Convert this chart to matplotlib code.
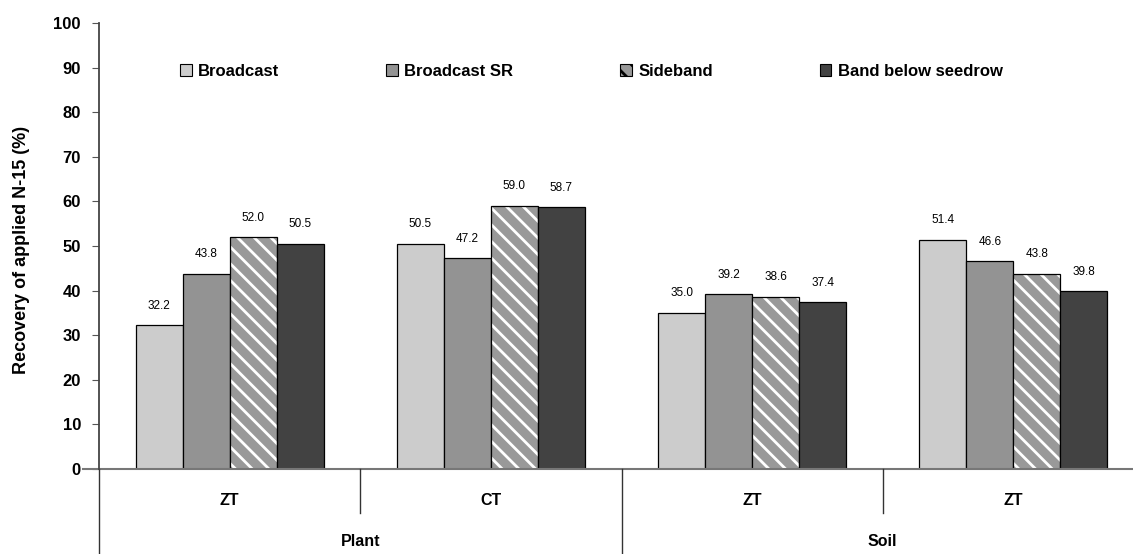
import matplotlib.pyplot as plt
import matplotlib.patches as mpatches
import numpy as np

plt.rcParams['font.family'] = ['Liberation Sans', 'DejaVu Sans']
plt.rcParams['hatch.linewidth'] = 2.0

# data
groups = ["ZT", "CT", "ZT", "ZT"]
parts = ["Plant", "Soil"]
series = ["Broadcast", "Broadcast SR", "Sideband", "Band below seedrow"]
broadcast = [32.2, 50.5, 35.0, 51.4]
broadcast_sr = [43.8, 47.2, 39.2, 46.6]
sideband = [52.0, 59.0, 38.6, 43.8]
band_below = [50.5, 58.7, 37.4, 39.8]
values = [broadcast, broadcast_sr, sideband, band_below]

colors = ["#cccccc", "#939393", "#999999", "#424242"]
hatches = [None, None, "\\\\", None]

fig = plt.figure(figsize=(11.33, 5.54), dpi=100)
ax = fig.add_axes([99 / 1133, 1 - 469 / 554, (1144 - 99) / 1133, 446 / 554])

x = np.arange(len(groups))
w = 0.18
for i, (vals, c, h) in enumerate(zip(values, colors, hatches)):
    pos = x + (i - 1.5) * w
    if h:
        ax.bar(pos, vals, w, color=c, edgecolor="white", hatch=h, linewidth=0)
        ax.bar(pos, vals, w, fill=False, edgecolor="black", linewidth=0.9)
    else:
        ax.bar(pos, vals, w, color=c, edgecolor="black", linewidth=0.9)
    for px, v in zip(pos, vals):
        ax.annotate(f"{v:.1f}", (px, v), xytext=(0, 14), textcoords="offset points",
                    ha="center", va="center", fontsize=8.5)

ax.set_xlim(-0.5, 3.5)
ax.set_ylim(0, 100)
ax.set_yticks(np.arange(0, 101, 10))
ax.tick_params(axis="y", labelsize=12, length=5, width=0.8, pad=8, color="#555555")
for t in ax.get_yticklabels():
    t.set_fontweight("bold")
ax.set_xticks([])
for s in ["top", "right", "bottom"]:
    ax.spines[s].set_visible(False)
ax.spines["left"].set_color("#444444")
ax.spines["left"].set_linewidth(1.3)

# baseline and multi-level category axis
tr = ax.get_xaxis_transform()
ax.plot([-0.56, 3.5], [0, 0], transform=tr, color="#777777", lw=1.5, clip_on=False)
ax.plot([-0.5, -0.5], [0, -0.2], transform=tr, color="#333333", lw=1, clip_on=False)
for b in [0.5, 2.5]:
    ax.plot([b, b], [0, -0.099], transform=tr, color="#333333", lw=1, clip_on=False)
ax.plot([1.5, 1.5], [0, -0.2], transform=tr, color="#333333", lw=1, clip_on=False)
for xi, g in zip(x, groups):
    ax.text(xi, -0.07, g, transform=tr, ha="center", va="center",
            fontsize=11.5, fontweight="bold")
for xc, p in zip([0.5, 2.5], parts):
    ax.text(xc, -0.162, p, transform=tr, ha="center", va="center",
            fontsize=11.5, fontweight="bold")

fig.text(22 / 1133, 1 - 250 / 554, "Recovery of applied N-15 (%)", rotation=90,
         ha="center", va="center", fontsize=13, fontweight="bold")

handles = []
for c, h, name in zip(colors, hatches, series):
    if h:
        handles.append(mpatches.Patch(facecolor=c, edgecolor="black", hatch=h, linewidth=0.8, label=name))
    else:
        handles.append(mpatches.Patch(facecolor=c, edgecolor="black", linewidth=0.8, label=name))
fig.legend(handles=handles, loc="center", bbox_to_anchor=(0.522, 1 - 71 / 554), ncol=4,
           frameon=False, prop={"weight": "bold", "size": 12}, handlelength=0.7,
           handleheight=0.7, handletextpad=0.4, columnspacing=6.4)

fig.savefig("out.png", dpi=100)
